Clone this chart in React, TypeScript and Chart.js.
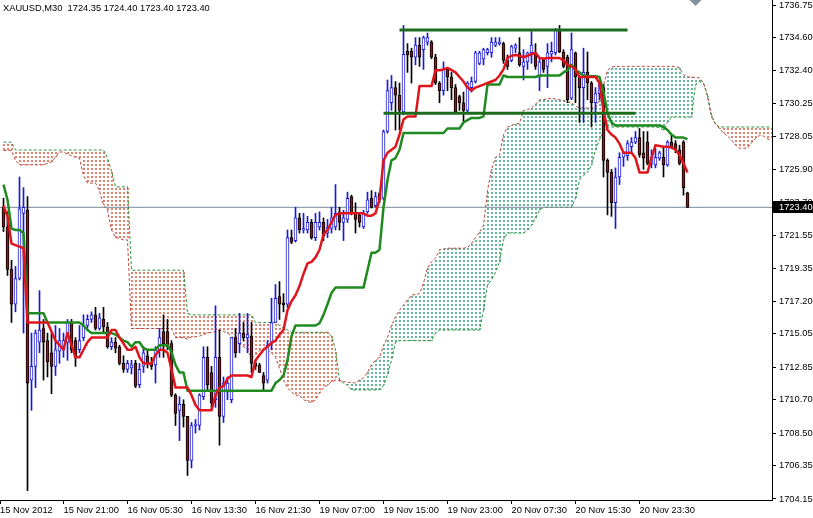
import React, { useEffect, useRef } from "react";
import { Chart, registerables } from "chart.js";

Chart.register(...registerables);

const symbolTitle = "XAUUSD,M30";

const xLabels = ["15 Nov 2012", "15 Nov 21:00", "16 Nov 05:30", "16 Nov 13:30", "16 Nov 21:30", "19 Nov 07:00", "19 Nov 15:00", "19 Nov 23:00", "20 Nov 07:30", "20 Nov 15:30", "20 Nov 23:30"];
const xLabelBars = [0, 15, 31, 47, 63, 79, 95, 111, 127, 143, 159];
const yTickValues = [1736.75, 1734.6, 1732.4, 1730.25, 1728.05, 1725.9, 1723.7, 1721.55, 1719.35, 1717.2, 1715.05, 1712.85, 1710.7, 1708.5, 1706.35, 1704.15];

const opens = [
  1723.4, 1722.1, 1719.3, 1717.0, 1718.7, 1723.0, 1723.2, 1712.0, 1712.9, 1714.5,
  1715.4, 1714.6, 1713.8, 1712.9, 1713.9, 1714.0, 1714.5, 1715.8, 1714.6, 1714.0,
  1714.8, 1715.6, 1716.0, 1716.3, 1715.4, 1716.0, 1715.5, 1714.2, 1714.5, 1714.2,
  1713.1, 1712.7, 1712.8, 1713.1, 1711.7, 1712.9, 1713.6, 1713.1, 1713.0, 1714.0,
  1715.2, 1715.2, 1714.4, 1711.0, 1710.0, 1710.4, 1709.6, 1706.7, 1709.0, 1709.0,
  1710.9, 1713.5, 1712.5, 1710.7, 1713.5, 1709.6, 1711.2, 1710.7, 1714.8, 1714.4,
  1715.1, 1714.8, 1714.9, 1713.1, 1713.0, 1712.3, 1712.0, 1714.5, 1715.8, 1717.5,
  1717.1, 1717.0, 1721.4, 1721.2, 1722.7, 1721.9, 1721.9, 1722.4, 1721.4, 1722.1,
  1722.4, 1721.7, 1722.0, 1722.1, 1723.1, 1722.4, 1722.6, 1724.1, 1723.0, 1722.9,
  1722.1, 1723.1, 1724.0, 1723.5, 1724.3, 1724.0, 1728.4, 1730.3, 1731.3, 1730.8,
  1729.7, 1733.7, 1733.7, 1733.3, 1734.1, 1733.8, 1734.3, 1734.3, 1733.3, 1731.6,
  1731.1, 1732.5, 1732.0, 1731.3, 1730.7, 1730.3, 1729.8, 1731.3, 1731.7, 1732.9,
  1733.2, 1733.6, 1733.6, 1734.1, 1734.2, 1734.2, 1733.1, 1733.1, 1733.9, 1733.6,
  1732.7, 1733.0, 1733.6, 1733.6, 1732.0, 1733.1, 1732.7, 1733.5, 1733.6, 1735.1,
  1733.65, 1733.3, 1730.6, 1733.6, 1732.0, 1731.3, 1732.3, 1731.6, 1730.3, 1730.9,
  1731.3, 1726.5, 1725.7, 1723.7, 1725.4, 1726.7, 1726.8, 1727.4, 1727.7, 1728.0,
  1727.0, 1727.7, 1726.3, 1726.2, 1726.65, 1726.7, 1726.2, 1727.7, 1727.6, 1727.2,
  1727.7, 1724.35,
];
const highs = [
  1724.0, 1723.1, 1719.9, 1719.5, 1725.4, 1724.7, 1724.1, 1715.1, 1715.3, 1717.9,
  1716.0, 1715.1, 1715.1, 1715.6, 1715.4, 1715.1, 1716.0, 1716.0, 1714.8, 1715.6,
  1716.3, 1716.3, 1716.5, 1716.8, 1716.4, 1716.8, 1715.8, 1714.8, 1714.8, 1714.3,
  1713.6, 1713.3, 1713.3, 1713.3, 1713.1, 1714.2, 1714.0, 1713.5, 1714.2, 1715.4,
  1716.3, 1716.0, 1714.6, 1711.1, 1710.9, 1710.7, 1709.6, 1709.2, 1709.4, 1711.1,
  1714.2, 1714.2, 1712.9, 1716.9, 1715.3, 1712.2, 1712.2, 1714.8, 1715.4, 1716.4,
  1715.8, 1716.4, 1715.8, 1713.3, 1713.1, 1712.5, 1714.6, 1717.4, 1718.3, 1718.5,
  1717.7, 1721.9, 1721.9, 1723.4, 1723.0, 1723.0, 1722.8, 1722.6, 1723.0, 1723.1,
  1722.7, 1722.6, 1723.4, 1724.9, 1723.4, 1723.2, 1724.4, 1724.2, 1723.7, 1723.0,
  1723.2, 1724.4, 1724.5, 1724.4, 1724.4, 1728.5, 1731.8, 1732.1, 1731.7, 1731.6,
  1735.4, 1734.2, 1733.9, 1734.6, 1734.6, 1734.7, 1734.9, 1734.4, 1733.5, 1731.7,
  1733.0, 1732.6, 1732.3, 1731.5, 1730.8, 1731.0, 1731.7, 1732.0, 1733.7, 1733.7,
  1733.9, 1733.9, 1734.6, 1734.6, 1734.6, 1734.3, 1733.45, 1734.1, 1734.2, 1734.6,
  1733.8, 1733.65, 1735.0, 1734.2, 1733.25, 1733.25, 1734.2, 1734.3, 1735.2, 1735.4,
  1733.8, 1733.45, 1734.9, 1733.65, 1732.1, 1733.9, 1733.65, 1731.7, 1731.3, 1731.7,
  1731.5, 1726.6, 1725.9, 1726.0, 1727.0, 1727.1, 1727.8, 1728.0, 1728.4, 1728.6,
  1728.4, 1728.4, 1727.2, 1727.3, 1727.1, 1727.4, 1727.8, 1728.2, 1727.8, 1727.5,
  1727.8, 1724.4,
];
const lows = [
  1721.8, 1718.9, 1715.8, 1716.5, 1718.6, 1715.1, 1704.7, 1710.0, 1711.5, 1713.8,
  1712.0, 1712.2, 1711.1, 1712.3, 1713.1, 1713.5, 1713.3, 1713.8, 1712.9, 1713.8,
  1714.6, 1715.4, 1715.8, 1715.3, 1715.3, 1715.1, 1714.1, 1714.0, 1713.8, 1713.0,
  1712.5, 1712.5, 1712.4, 1711.5, 1711.5, 1712.5, 1712.8, 1712.7, 1711.8, 1713.5,
  1713.5, 1714.0, 1710.9, 1709.0, 1708.0, 1708.9, 1705.7, 1706.2, 1708.5, 1708.7,
  1710.7, 1711.3, 1710.0, 1710.2, 1707.7, 1709.2, 1710.7, 1710.5, 1713.5, 1713.8,
  1714.6, 1713.8, 1712.5, 1712.7, 1712.5, 1711.3, 1711.8, 1714.0, 1715.8, 1716.0,
  1716.5, 1716.8, 1721.0, 1721.1, 1721.7, 1721.7, 1721.7, 1721.3, 1721.2, 1721.9,
  1721.2, 1721.4, 1721.7, 1721.9, 1721.9, 1721.2, 1722.4, 1722.9, 1721.7, 1722.1,
  1722.0, 1723.0, 1723.35, 1723.4, 1723.7, 1723.9, 1728.3, 1729.8, 1728.5, 1728.5,
  1729.5, 1732.3, 1731.6, 1732.8, 1732.7, 1732.5, 1734.1, 1733.2, 1731.5, 1730.3,
  1730.8, 1731.1, 1730.5, 1729.6, 1729.8, 1729.0, 1729.7, 1731.0, 1731.6, 1732.8,
  1732.8, 1733.45, 1733.3, 1734.0, 1734.1, 1732.9, 1732.5, 1733.0, 1733.6, 1732.7,
  1731.8, 1732.5, 1732.9, 1732.5, 1731.1, 1732.3, 1731.3, 1733.0, 1733.45, 1733.6,
  1732.6, 1730.3, 1730.5, 1730.3, 1729.0, 1729.0, 1730.5, 1728.7, 1729.0, 1730.5,
  1725.4, 1722.9, 1722.8, 1722.0, 1724.9, 1726.1, 1726.5, 1727.0, 1727.6, 1726.7,
  1725.9, 1726.2, 1726.0, 1726.0, 1726.5, 1725.4, 1726.1, 1727.3, 1727.0, 1726.2,
  1724.2, 1723.4,
];
const closes = [
  1722.1, 1719.3, 1717.0, 1718.7, 1723.3, 1723.4, 1711.8, 1712.9, 1715.1, 1715.3,
  1714.5, 1713.2, 1712.9, 1714.0, 1714.6, 1714.6, 1715.8, 1714.0, 1713.5, 1714.6,
  1715.6, 1716.0, 1716.3, 1715.4, 1716.1, 1715.5, 1714.2, 1714.5, 1714.1, 1713.1,
  1712.7, 1713.1, 1713.0, 1711.6, 1712.7, 1713.8, 1713.1, 1712.9, 1714.0, 1714.8,
  1714.4, 1714.2, 1711.0, 1709.8, 1710.4, 1709.6, 1706.7, 1709.0, 1709.1, 1711.0,
  1713.5, 1711.7, 1710.5, 1713.5, 1709.6, 1711.8, 1711.8, 1714.8, 1713.8, 1715.1,
  1714.8, 1715.0, 1713.1, 1712.9, 1712.5, 1711.8, 1714.3, 1715.8, 1717.4, 1717.0,
  1716.95, 1721.4, 1721.1, 1722.7, 1721.9, 1722.0, 1722.4, 1721.4, 1722.4, 1722.4,
  1721.5, 1722.1, 1722.7, 1723.0, 1722.4, 1722.7, 1724.0, 1723.0, 1722.6, 1722.4,
  1723.0, 1723.9, 1723.4, 1724.1, 1723.9, 1728.4, 1731.1, 1731.3, 1730.8, 1729.8,
  1733.5, 1733.45, 1733.3, 1734.1, 1733.3, 1734.6, 1734.6, 1733.3, 1731.6, 1731.1,
  1732.5, 1732.0, 1731.3, 1729.7, 1730.3, 1729.8, 1731.6, 1731.7, 1733.6, 1733.6,
  1733.8, 1733.8, 1734.3, 1734.3, 1734.3, 1733.1, 1732.7, 1734.0, 1734.1, 1732.8,
  1733.0, 1733.6, 1734.1, 1732.7, 1733.0, 1732.5, 1733.6, 1733.7, 1735.1, 1733.65,
  1732.7, 1730.5, 1733.8, 1732.0, 1731.3, 1732.3, 1731.6, 1730.3, 1730.9, 1731.5,
  1726.5, 1725.7, 1723.7, 1725.4, 1726.7, 1727.0, 1727.6, 1727.7, 1728.0, 1726.85,
  1726.65, 1726.3, 1726.7, 1726.7, 1727.0, 1726.2, 1727.7, 1727.4, 1727.2, 1726.3,
  1724.7, 1723.4,
];

const tenkan = [
  1723.5, 1722.8, 1721.0, 1720.9, 1720.8, 1720.7, 1715.8, 1715.8, 1715.8, 1715.8,
  1715.8, 1715.8, 1715.2, 1714.6, 1714.3, 1714.0, 1715.1, 1714.3, 1713.5, 1713.5,
  1714.0, 1714.5, 1714.8, 1714.8, 1714.8, 1714.8, 1714.8, 1715.3, 1715.3, 1714.8,
  1714.4, 1714.0, 1714.0, 1714.2, 1713.5, 1713.1, 1713.1, 1713.1, 1713.65, 1714.0,
  1714.0, 1713.8, 1712.7, 1711.5, 1711.5, 1711.5, 1711.5, 1711.0, 1710.35, 1710.0,
  1710.0, 1710.0, 1710.0, 1711.0, 1711.5, 1711.6, 1712.1, 1712.3, 1712.3, 1712.3,
  1712.3, 1712.3, 1712.2, 1713.3, 1713.65, 1714.0, 1714.2, 1714.45, 1714.6, 1715.0,
  1715.3, 1716.6, 1717.2, 1717.6, 1718.2, 1719.0, 1719.7, 1719.8, 1720.1, 1720.6,
  1721.6, 1721.9, 1722.4, 1722.9, 1723.0, 1723.0, 1723.0, 1723.0, 1723.0, 1723.0,
  1723.0, 1722.85, 1722.85, 1723.0, 1723.9, 1726.5, 1727.0, 1727.2, 1727.4, 1728.2,
  1729.2, 1729.4, 1729.4, 1729.4, 1731.4, 1731.4, 1731.4, 1731.4, 1732.45, 1732.45,
  1732.5, 1732.6, 1732.45, 1732.3, 1732.0, 1731.7, 1731.3, 1731.1, 1731.3, 1731.4,
  1731.5, 1731.6, 1731.7, 1731.8, 1732.1, 1732.5, 1733.25, 1733.4, 1733.45, 1733.4,
  1733.3, 1733.4, 1733.5, 1733.6, 1733.25, 1733.2, 1733.25, 1733.25, 1733.25, 1733.25,
  1733.1, 1732.8, 1732.7, 1732.5, 1732.0, 1732.0, 1732.0, 1732.0, 1732.0, 1731.6,
  1729.8, 1728.5, 1728.2, 1728.0, 1727.6, 1727.0, 1727.0, 1727.0, 1726.65, 1725.7,
  1725.7, 1725.7, 1726.65, 1727.5, 1727.45, 1727.4, 1727.4, 1727.35, 1727.2, 1726.85,
  1726.3, 1725.7,
];
const kijun = [
  1724.9, 1723.9, 1722.0, 1721.9, 1721.9, 1721.7, 1716.4, 1716.4, 1716.4, 1716.4,
  1716.4, 1715.8, 1715.8, 1715.8, 1715.8, 1715.8, 1715.8, 1715.8, 1715.8, 1715.8,
  1715.6, 1715.3, 1715.1, 1715.1, 1715.1, 1715.1, 1715.1, 1715.1, 1715.0, 1714.8,
  1714.6, 1714.5, 1714.2, 1714.5, 1714.5, 1714.1, 1714.0, 1714.0, 1714.0, 1714.3,
  1714.3, 1714.3, 1713.85, 1713.0, 1712.5, 1712.5, 1711.3, 1711.3, 1711.3, 1711.3,
  1711.3, 1711.3, 1711.3, 1711.3, 1711.3, 1711.3, 1711.3, 1711.3, 1711.3, 1711.3,
  1711.3, 1711.3, 1711.3, 1711.3, 1711.3, 1711.3, 1711.3, 1711.3, 1711.8, 1712.0,
  1712.3, 1713.3, 1714.9, 1715.6, 1715.6, 1715.6, 1715.6, 1715.6, 1715.6, 1715.75,
  1716.3, 1717.0, 1717.75, 1718.1, 1718.1, 1718.1, 1718.1, 1718.1, 1718.1, 1718.1,
  1718.1, 1719.25, 1720.4, 1720.4, 1720.6, 1723.4, 1725.2, 1726.5, 1726.65, 1727.2,
  1728.3, 1728.3, 1728.3, 1728.3, 1728.3, 1728.3, 1728.3, 1728.3, 1728.3, 1728.3,
  1728.3, 1728.6, 1728.6, 1728.6, 1728.6, 1729.0, 1729.15, 1729.3, 1729.3, 1729.3,
  1729.4, 1731.5, 1731.5, 1731.5, 1731.5, 1732.1, 1732.0, 1732.0, 1732.0, 1732.0,
  1732.0, 1732.0, 1732.0, 1732.0, 1732.1, 1732.1, 1732.1, 1732.1, 1732.1, 1732.1,
  1732.3, 1732.45, 1732.8, 1732.45, 1732.3, 1732.1, 1732.05, 1732.05, 1732.05, 1732.0,
  1731.0, 1729.6, 1729.0, 1728.8, 1728.8, 1728.8, 1728.8, 1728.8, 1728.8, 1728.8,
  1728.8, 1728.8, 1728.8, 1728.8, 1728.8, 1728.7, 1728.5, 1728.2, 1728.0, 1728.0,
  1728.0, 1727.9,
];

const spanA = [
  1727.15, 1727.15, 1727.15, 1726.5, 1726.2, 1726.2, 1726.2, 1726.2, 1726.2, 1726.2,
  1726.2, 1726.3, 1726.4, 1726.7, 1727.05, 1727.05, 1726.9, 1726.8, 1726.7, 1726.65,
  1725.5, 1725.0, 1725.0, 1725.0, 1724.5, 1723.55, 1723.2, 1721.9, 1721.4, 1721.35,
  1721.25, 1721.25, 1715.4, 1715.4, 1715.4, 1715.4, 1715.4, 1715.4, 1715.4, 1715.4,
  1715.4, 1715.4, 1715.4, 1714.8, 1714.8, 1714.8, 1714.7, 1714.85, 1714.85, 1714.9,
  1715.0, 1715.1, 1715.15, 1715.2, 1715.3, 1715.2, 1715.1, 1714.9, 1714.65, 1714.4,
  1714.2, 1714.0, 1713.45, 1713.65, 1713.95, 1714.1, 1713.95, 1713.8, 1713.5, 1712.8,
  1712.0, 1711.5, 1711.2, 1711.0, 1711.0, 1710.7, 1710.6, 1710.5, 1710.7, 1711.15,
  1711.5, 1711.65, 1711.9, 1712.0, 1711.95, 1711.9, 1711.85, 1711.85, 1711.8, 1712.0,
  1712.15, 1712.5, 1713.0, 1713.3, 1713.5, 1714.3, 1714.8, 1715.6, 1716.15, 1716.6,
  1716.95, 1717.3, 1717.6, 1717.65, 1717.7, 1718.4, 1719.4, 1719.8, 1720.05, 1720.6,
  1720.65, 1720.7, 1720.7, 1720.7, 1720.7, 1720.7, 1720.75, 1721.0, 1721.4, 1721.75,
  1722.2, 1724.5, 1725.9, 1726.7, 1726.85, 1728.2, 1728.7, 1728.8, 1728.9, 1728.95,
  1729.8, 1729.85, 1729.95, 1730.2, 1730.5, 1730.5, 1730.55, 1730.6, 1730.55, 1730.5,
  1730.45, 1730.35, 1730.3, 1730.1, 1729.95, 1729.95, 1729.95, 1729.95, 1729.95, 1730.5,
  1731.45, 1732.45, 1732.65, 1732.7, 1732.7, 1732.7, 1732.7, 1732.7, 1732.7, 1732.7,
  1732.7, 1732.7, 1732.7, 1732.7, 1732.7, 1732.7, 1732.7, 1732.7, 1732.7, 1732.6,
  1732.15, 1732.0, 1732.0, 1731.95, 1731.95, 1731.6, 1730.8, 1729.5, 1728.9, 1728.6,
  1728.3, 1728.1, 1727.85, 1727.5, 1727.3, 1727.3, 1727.3, 1727.65, 1727.95, 1728.15,
  1728.1, 1727.9, 1727.85,
];
const spanB = [
  1727.7, 1727.7, 1727.7, 1727.18, 1727.18, 1727.18, 1727.18, 1727.18, 1727.18, 1727.18,
  1727.18, 1727.18, 1727.18, 1727.18, 1727.18, 1727.18, 1727.18, 1727.18, 1727.18, 1727.18,
  1727.18, 1727.18, 1727.18, 1727.18, 1727.18, 1727.18, 1726.65, 1725.8, 1724.75, 1724.75,
  1724.75, 1724.75, 1719.25, 1719.25, 1719.25, 1719.25, 1719.25, 1719.25, 1719.25, 1719.25,
  1719.25, 1719.25, 1719.25, 1719.25, 1719.25, 1719.25, 1716.4, 1716.3, 1716.3, 1716.3,
  1716.3, 1716.3, 1716.3, 1716.3, 1716.3, 1716.3, 1716.3, 1716.3, 1716.3, 1716.3,
  1716.3, 1716.3, 1716.3, 1715.8, 1715.8, 1715.8, 1715.8, 1715.8, 1715.8, 1715.6,
  1715.4, 1715.3, 1715.15, 1715.15, 1715.15, 1715.15, 1715.15, 1715.15, 1715.15, 1715.15,
  1715.15, 1715.15, 1714.9, 1714.0, 1712.0, 1711.8, 1711.65, 1711.35, 1711.35, 1711.35,
  1711.35, 1711.35, 1711.35, 1711.35, 1711.35, 1711.65, 1712.35, 1713.3, 1714.5, 1714.6,
  1714.6, 1714.6, 1714.6, 1714.6, 1714.6, 1714.6, 1714.6, 1714.6, 1715.1, 1715.3,
  1715.3, 1715.3, 1715.3, 1715.3, 1715.3, 1715.3, 1715.3, 1715.3, 1715.3, 1715.3,
  1716.6, 1718.25, 1718.6, 1719.1, 1719.8, 1721.25, 1721.7, 1721.7, 1721.7, 1721.7,
  1721.7, 1721.9, 1722.2, 1722.7, 1723.2, 1723.4, 1723.4, 1723.4, 1723.4, 1723.4,
  1723.4, 1723.4, 1723.4, 1724.0, 1725.2, 1725.5, 1725.7, 1726.2, 1727.2, 1727.85,
  1728.35, 1728.7, 1728.7, 1728.7, 1728.7, 1728.7, 1728.7, 1728.7, 1728.7, 1728.7,
  1728.7, 1728.7, 1728.7, 1728.7, 1728.65, 1728.5, 1729.0, 1729.35, 1729.35, 1729.35,
  1729.35, 1729.35, 1729.35, 1731.5, 1731.7, 1731.6, 1730.7, 1729.35, 1728.9, 1728.7,
  1728.7, 1728.7, 1728.7, 1728.7, 1728.7, 1728.7, 1728.7, 1728.7, 1728.7, 1728.7,
  1728.7, 1728.7, 1728.7,
];

const rangeTopLevel = 1735.1;
const rangeTopBars = [99, 156];
const rangeLowLevel = 1729.6;
const rangeLowBars = [95, 158];

const X_MIN = -0.875;
const X_MAX = 192.125;
const Y_MIN = 1704.084;
const Y_MAX = 1737.08;

const FONT_FAMILY = "'Liberation Sans', Arial, sans-serif";
const FONT_SIZE = 9.3;

const BULL = "#1a1ad6";
const BEAR_FILL = "#8b1a1a";
const BEAR_LINE = "#000000";
const TENKAN = "#e0141c";
const KIJUN = "#1f8a1f";
const RANGE = "#1d6b1d";
const SPAN_A = "#b8473a";
const SPAN_B = "#2f8f3a";
const BID = "#778899";
const DOT_RED = "#e8806c";
const DOT_GREEN = "#62b898";

export default function App() {
  const ref = useRef<HTMLCanvasElement | null>(null);

  useEffect(() => {
    document.body.style.margin = "0";
    const canvas = ref.current;
    if (!canvas) return;

    const bull = closes.map((c, i) => c >= opens[i]);
    const pts = (arr: number[]) => arr.map((v, i) => ({ x: i, y: v }));
    const last = closes.length - 1;

    // Kumo: dotted histogram between the two spans (as MT4 draws it)
    const kumo = {
      id: "kumo",
      beforeDatasetsDraw(chart: any) {
        const { ctx, chartArea } = chart;
        const xs = chart.scales.x;
        const ys = chart.scales.y;
        ctx.save();
        ctx.beginPath();
        ctx.rect(chartArea.left, chartArea.top, chartArea.right - chartArea.left, chartArea.bottom - chartArea.top);
        ctx.clip();
        for (let i = 0; i < spanA.length; i++) {
          const px = Math.floor(xs.getPixelForValue(i));
          const ya = ys.getPixelForValue(spanA[i]);
          const yb = ys.getPixelForValue(spanB[i]);
          const top = Math.round(Math.min(ya, yb));
          const bot = Math.round(Math.max(ya, yb));
          if (bot - top < 1) continue;
          ctx.fillStyle = spanA[i] >= spanB[i] ? DOT_GREEN : DOT_RED;
          for (let yy = top - (top % 4); yy < bot; yy += 4) {
            const a = Math.max(yy, top);
            const b = Math.min(yy + 2, bot);
            if (b > a) ctx.fillRect(px, a, 2, b - a);
          }
        }
        ctx.restore();
      },
    };

    const overlay = {
      id: "mt4Overlay",
      afterDraw(chart: any) {
        const { ctx } = chart;
        const y = chart.scales.y;
        const x = chart.scales.x;
        ctx.save();
        ctx.font = `${FONT_SIZE}px ${FONT_FAMILY}`;
        ctx.textBaseline = "middle";
        ctx.textAlign = "left";
        ctx.fillStyle = "#000";
        const header = `${symbolTitle}  ${opens[last].toFixed(2)} ${highs[last].toFixed(2)} ${lows[last].toFixed(2)} ${closes[last].toFixed(2)}`;
        ctx.fillText(header, 3, 8);
        const py = y.getPixelForValue(closes[last]);
        ctx.fillStyle = "#000";
        ctx.fillRect(y.left + 1, Math.round(py) - 6, chart.width - y.left - 1, 12);
        ctx.fillStyle = "#fff";
        ctx.fillText(closes[last].toFixed(2), y.left + 7, py + 0.5);
        const sx = x.getPixelForValue(last + 2);
        ctx.fillStyle = "#8591a0";
        ctx.beginPath();
        ctx.moveTo(sx - 6, 0);
        ctx.lineTo(sx + 6, 0);
        ctx.lineTo(sx, 6);
        ctx.closePath();
        ctx.fill();
        ctx.restore();
      },
    };

    const chart = new Chart(canvas, {
      type: "bar",
      data: {
        datasets: [
          {
            type: "line",
            data: [{ x: rangeTopBars[0], y: rangeTopLevel }, { x: rangeTopBars[1], y: rangeTopLevel }],
            borderColor: RANGE,
            borderWidth: 3,
            pointRadius: 0,
            order: 2,
          },
          {
            type: "line",
            data: [{ x: rangeLowBars[0], y: rangeLowLevel }, { x: rangeLowBars[1], y: rangeLowLevel }],
            borderColor: RANGE,
            borderWidth: 3,
            pointRadius: 0,
            order: 2,
          },
          {
            type: "line",
            data: pts(tenkan),
            borderColor: TENKAN,
            borderWidth: 2.5,
            pointRadius: 0,
            borderJoinStyle: "round",
            order: 3,
          },
          {
            type: "line",
            data: pts(kijun),
            borderColor: KIJUN,
            borderWidth: 2.5,
            pointRadius: 0,
            borderJoinStyle: "round",
            order: 4,
          },
          {
            type: "bar",
            data: opens.map((o, i) => ({ x: i, y: [o, closes[i]] })),
            backgroundColor: bull.map((b) => (b ? "#ffffff" : BEAR_FILL)),
            borderColor: bull.map((b) => (b ? BULL : BEAR_LINE)),
            borderWidth: 1,
            borderSkipped: false,
            barThickness: 3,
            minBarLength: 1,
            grouped: false,
            order: 5,
          },
          {
            type: "bar",
            data: lows.map((l, i) => ({ x: i, y: [l, highs[i]] })),
            backgroundColor: bull.map((b) => (b ? BULL : BEAR_LINE)),
            borderWidth: 0,
            barThickness: 1,
            grouped: false,
            order: 6,
          },
          {
            type: "line",
            data: [{ x: X_MIN, y: closes[last] }, { x: X_MAX, y: closes[last] }],
            borderColor: BID,
            borderWidth: 1,
            pointRadius: 0,
            order: 7,
          },
          {
            type: "line",
            data: pts(spanA),
            borderColor: SPAN_A,
            borderWidth: 1,
            borderDash: [3, 2],
            pointRadius: 0,
            fill: false,
            order: 8,
          },
          {
            type: "line",
            data: pts(spanB),
            borderColor: SPAN_B,
            borderWidth: 1,
            borderDash: [3, 2],
            pointRadius: 0,
            fill: false,
            order: 9,
          },
        ] as any,
      },
      options: {
        responsive: false,
        animation: false,
        devicePixelRatio: 1,
        events: [],
        layout: { padding: 0 },
        plugins: {
          legend: { display: false },
          tooltip: { enabled: false },
          title: { display: false },
        },
        scales: {
          x: {
            type: "linear",
            min: X_MIN,
            max: X_MAX,
            offset: false,
            afterBuildTicks: (s: any) => {
              s.ticks = xLabelBars.map((b, k) => ({ value: k === 0 ? s.min : b }));
            },
            afterFit: (s: any) => {
              s.height = 18;
              s.paddingLeft = 0;
              s.paddingRight = 0;
            },
            ticks: {
              autoSkip: false,
              maxRotation: 0,
              minRotation: 0,
              align: "start",
              padding: 1,
              color: "#000",
              font: { family: FONT_FAMILY, size: FONT_SIZE },
              callback: (_v: any, idx: number) => xLabels[idx] ?? "",
            },
            grid: { drawOnChartArea: false, drawTicks: true, tickLength: 4, tickColor: "#000", offset: false },
            border: { display: true, color: "#000", width: 1 },
          },
          y: {
            type: "linear",
            position: "right",
            min: Y_MIN,
            max: Y_MAX,
            afterBuildTicks: (s: any) => {
              s.ticks = yTickValues.map((v) => ({ value: v }));
            },
            afterFit: (s: any) => {
              s.width = 41;
              s.paddingTop = 0;
              s.paddingBottom = 0;
            },
            ticks: {
              autoSkip: false,
              padding: 3,
              color: "#000",
              font: { family: FONT_FAMILY, size: FONT_SIZE },
              callback: (v: any) => Number(v).toFixed(2),
            },
            grid: { drawOnChartArea: false, drawTicks: true, tickLength: 4, tickColor: "#000" },
            border: { display: true, color: "#000", width: 1 },
          },
        },
      } as any,
      plugins: [kumo, overlay],
    });

    return () => chart.destroy();
  }, []);

  return (
    <div style={{ position: "absolute", left: 0, top: 0, width: 813, height: 518, background: "#fff" }}>
      <canvas ref={ref} width={813} height={518} style={{ display: "block", width: 813, height: 518 }} />
    </div>
  );
}
